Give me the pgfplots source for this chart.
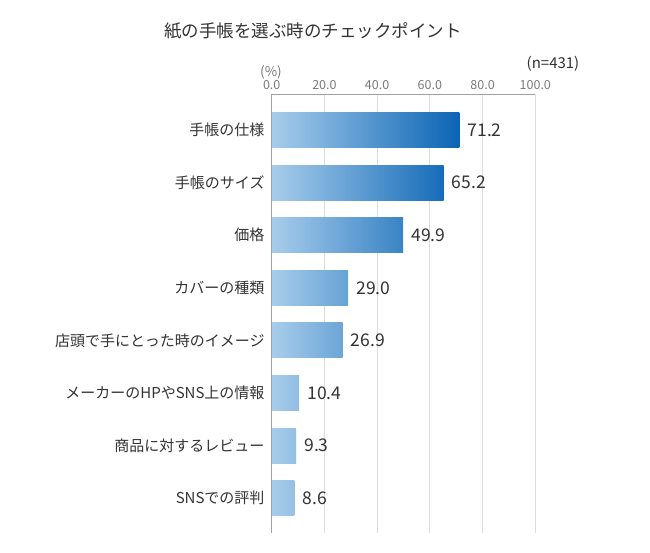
\documentclass[border=0pt]{standalone}
\usepackage{fontspec}
\setmainfont{Noto Sans CJK JP}
\usepackage{pgfplots}
\pgfplotsset{compat=1.18}
\definecolor{cL}{HTML}{A8CDEB}
\definecolor{cR}{HTML}{0A64B4}
\definecolor{txt}{HTML}{333333}
\definecolor{tick}{HTML}{7A7A7A}
\definecolor{gridc}{HTML}{DDDDDD}
\definecolor{axc}{HTML}{A0A0A0}
\begin{document}
\begin{tikzpicture}
\path[use as bounding box, fill=white] (0pt,0pt) rectangle (650pt,-553pt);
\node[font=\fontsize{17.5}{20}\selectfont, text=txt] at (313pt,-31pt) {紙の手帳を選ぶ時のチェックポイント};
\node[font=\fontsize{13.5}{15}\selectfont, text=tick] at (271pt,-72pt) {(\%)};
\node[font=\fontsize{15}{17}\selectfont, text=txt] at (553pt,-64pt) {(n=431)};
\begin{axis}[
  at={(271.7pt,-533pt)}, anchor=south west,
  scale only axis, width=263.6pt, height=439pt,
  xmin=0, xmax=100, ymin=-0.66, ymax=7.684,
  /pgf/number format/assume math mode=true,
  xtick={0,20,40,60,80,100},
  xticklabel pos=upper,
  xticklabel={\pgfmathprintnumber[fixed,fixed zerofill,precision=1]{\tick}},
  xticklabel style={font=\fontsize{12.5}{14}\selectfont, text=tick, inner sep=0pt, anchor=base, yshift=4pt},
  ytick={0,1,2,3,4,5,6,7},
  yticklabels={SNSでの評判, 商品に対するレビュー, メーカーのHPやSNS上の情報, 店頭で手にとった時のイメージ, カバーの種類, 価格, 手帳のサイズ, 手帳の仕様},
  yticklabel style={font=\fontsize{15}{17}\selectfont, text=txt, inner sep=0pt, xshift=-7pt},
  major tick length=0pt,
  axis line style={draw=none},
  xmajorgrids, grid style={gridc, line width=0.8pt},
  xbar, bar width=0.665, bar shift=0pt,
  point meta=x,
  nodes near coords={\pgfmathprintnumber[fixed,fixed zerofill,precision=1]{\pgfplotspointmeta}},
  every node near coord/.append style={font=\fontsize{17.5}{19}\selectfont, text=txt, anchor=west, inner sep=0pt, xshift=8pt},
  clip=false,
]
\addplot[draw=none, left color=cL, right color=cR!100!cL] coordinates {(71.2,7)};
\addplot[draw=none, left color=cL, right color=cR!92!cL] coordinates {(65.2,6)};
\addplot[draw=none, left color=cL, right color=cR!70!cL] coordinates {(49.9,5)};
\addplot[draw=none, left color=cL, right color=cR!41!cL] coordinates {(29.0,4)};
\addplot[draw=none, left color=cL, right color=cR!38!cL] coordinates {(26.9,3)};
\addplot[draw=none, left color=cL, right color=cR!15!cL] coordinates {(10.4,2)};
\addplot[draw=none, left color=cL, right color=cR!13!cL] coordinates {(9.3,1)};
\addplot[draw=none, left color=cL, right color=cR!12!cL] coordinates {(8.6,0)};
\draw[axc, line width=0.8pt] (axis cs:0,7.684) -- (axis cs:100,7.684);
\draw[axc, line width=0.8pt] (axis cs:0,7.684) -- (axis cs:0,-0.66);
\end{axis}
\end{tikzpicture}
\end{document}
